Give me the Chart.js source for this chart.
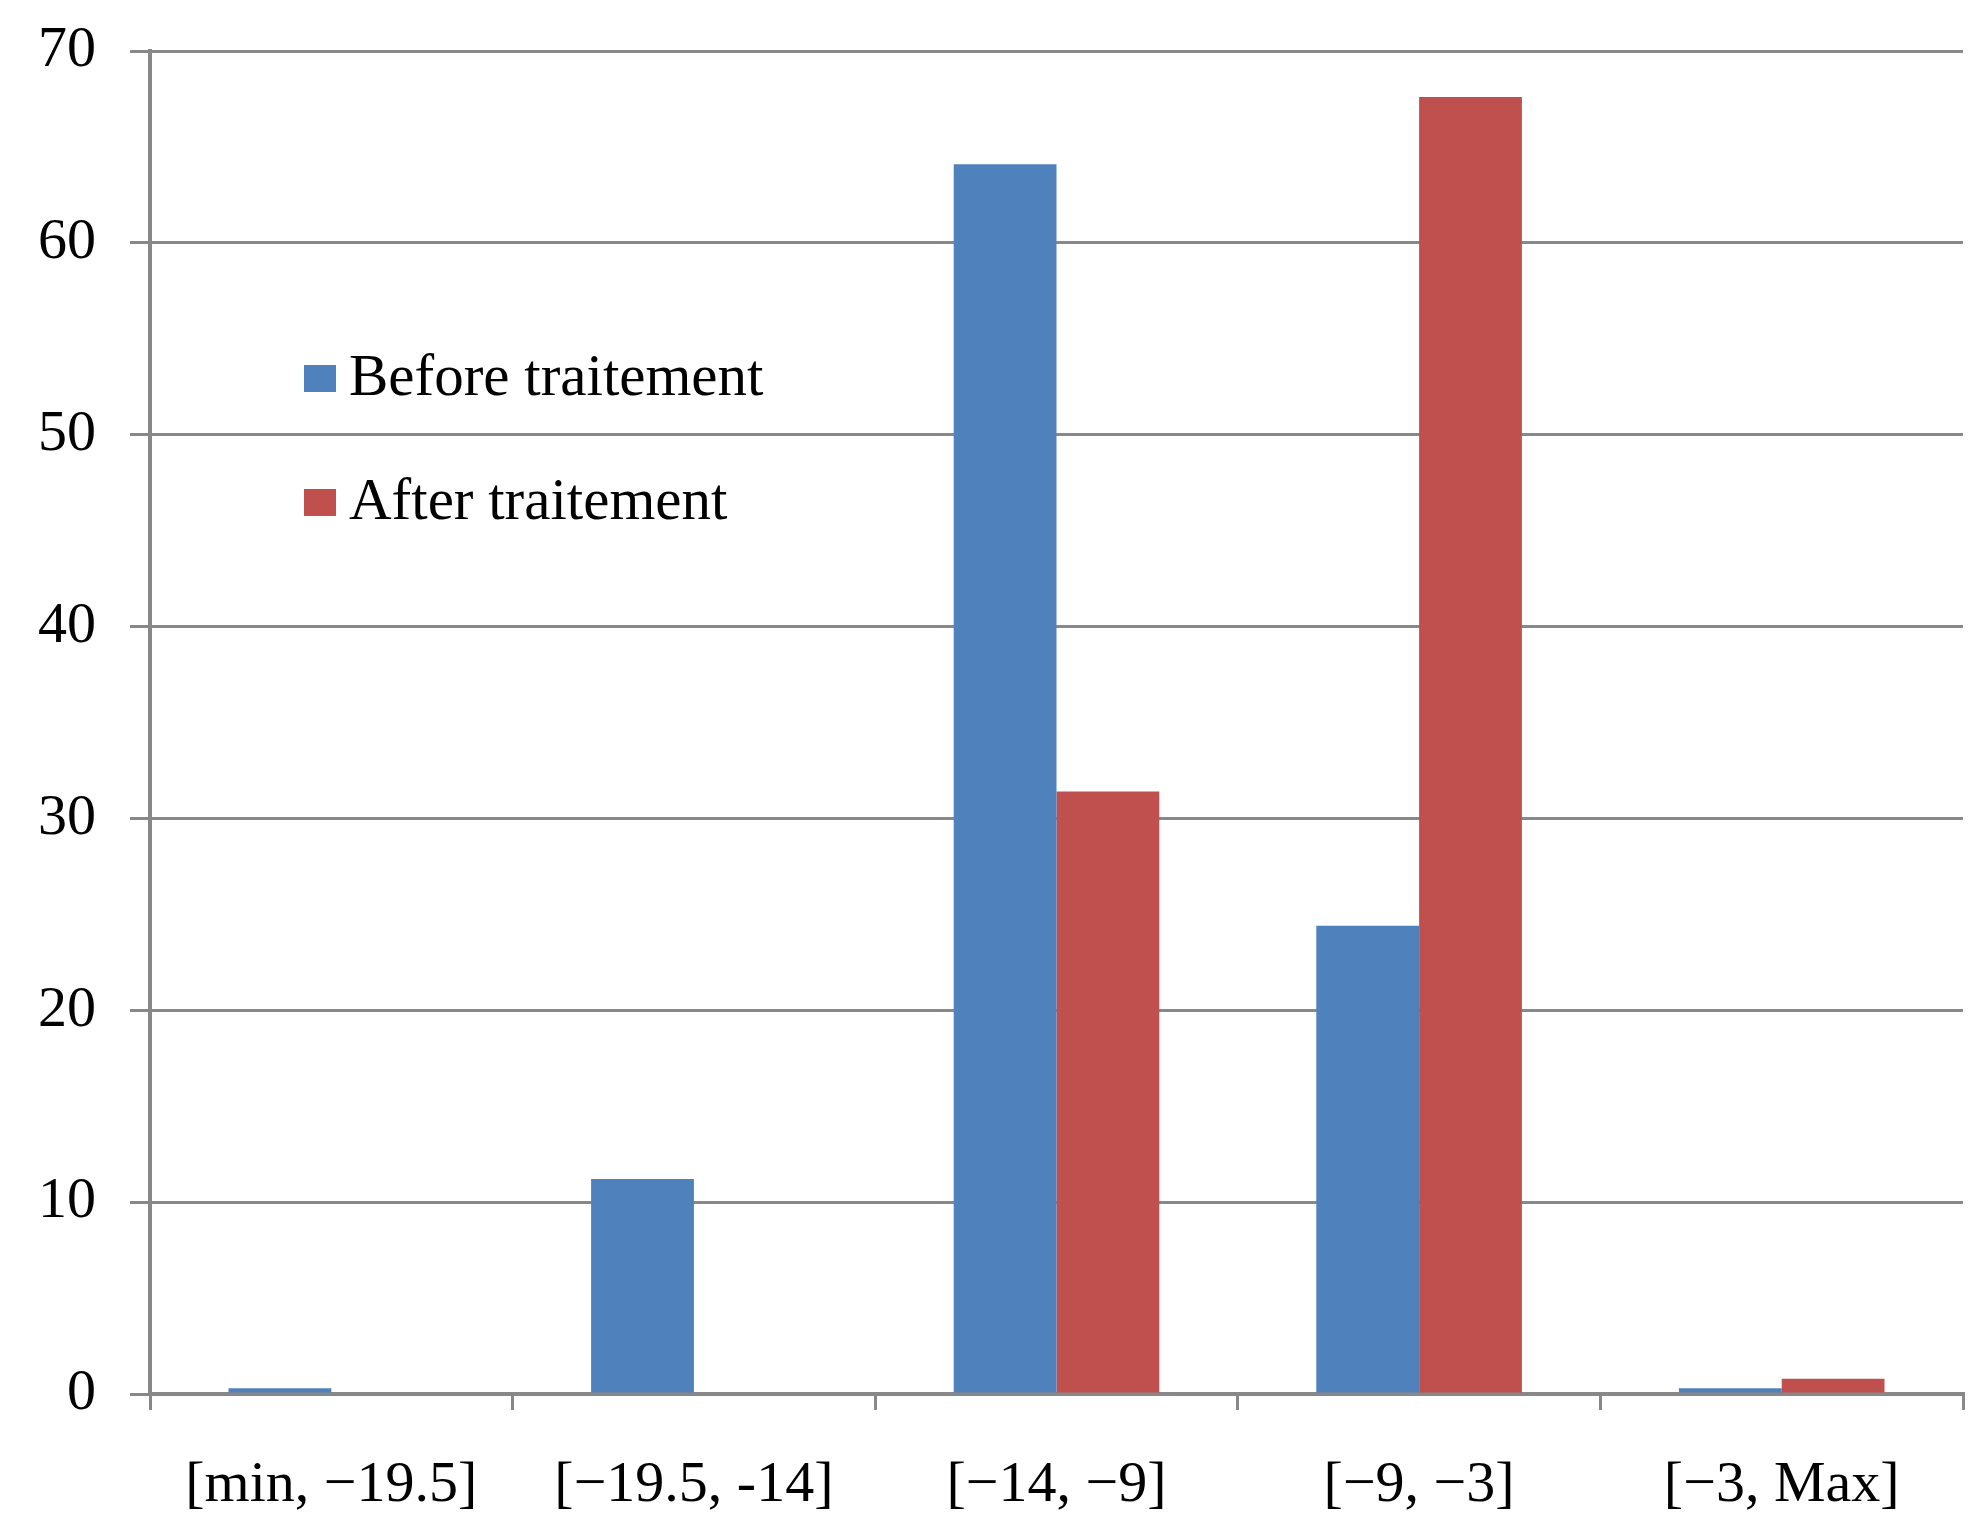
<!DOCTYPE html>
<html>
<head>
<meta charset="utf-8">
<script src="https://cdn.jsdelivr.net/npm/chart.js@4.4.1/dist/chart.umd.min.js"></script>
<style>
  html, body { margin: 0; padding: 0; background: #ffffff; }
  canvas { display: block; }
</style>
</head>
<body>
<canvas id="chart" width="1987" height="1538"></canvas>
<script>
const categories = ["[min, \u221219.5]", "[\u221219.5, -14]", "[\u221214, \u22129]", "[\u22129, \u22123]", "[\u22123, Max]"];
const beforeValues = [0.3, 11.2, 64.1, 24.4, 0.3];
const afterValues = [0, 0, 31.4, 67.6, 0.8];
const seriesNames = ["Before traitement", "After traitement"];
const yTicks = [0, 10, 20, 30, 40, 50, 60, 70];

const colors = ["#4f81bd", "#c0504d"];
const axisGray = "#888888";
const font = "'Liberation Serif', 'Times New Roman', serif";

// legend drawn inside the plot, like the original
const insideLegend = {
    id: "insideLegend",
    afterDraw(chart, args, opts) {
        const ctx = chart.ctx;
        ctx.save();
        ctx.font = opts.size + "px " + font;
        ctx.textBaseline = "alphabetic";
        ctx.textAlign = "left";
        chart.data.datasets.forEach((ds, i) => {
            const y = opts.y + i * opts.gap;
            ctx.fillStyle = ds.backgroundColor;
            ctx.fillRect(opts.x, y, 32, 27);
            ctx.fillStyle = "#000000";
            ctx.fillText(ds.label, opts.x + 45, y + 30);
        });
        ctx.restore();
    },
};

const config = {
    type: "bar",
    data: {
        labels: categories,
        datasets: [
            { label: seriesNames[0], data: beforeValues, backgroundColor: colors[0] },
            { label: seriesNames[1], data: afterValues, backgroundColor: colors[1] },
        ],
    },
    options: {
        responsive: false,
        animation: false,
        layout: { padding: { top: 51, right: 24, left: 0, bottom: 0 } },
        datasets: {
            bar: { barPercentage: 1, categoryPercentage: 0.567, borderWidth: 0 },
        },
        plugins: {
            legend: { display: false },
            tooltip: { enabled: false },
            insideLegend: { x: 304, y: 365, gap: 124, size: 59 },
        },
        scales: {
            x: {
                offset: true,
                grid: {
                    offset: true,
                    drawOnChartArea: false,
                    drawTicks: true,
                    tickLength: 16,
                    color: axisGray,
                    lineWidth: 3,
                },
                border: { color: axisGray, width: 4 },
                ticks: {
                    color: "#000000",
                    font: { family: font, size: 58 },
                    padding: 41,
                    maxRotation: 0,
                    autoSkip: false,
                },
                afterFit(scale) { scale.height = 144; },
            },
            y: {
                min: 0,
                max: 70,
                afterBuildTicks(scale) { scale.ticks = yTicks.map(v => ({ value: v })); },
                grid: {
                    color: axisGray,
                    lineWidth: 3,
                    tickLength: 20,
                },
                border: { color: axisGray, width: 4 },
                ticks: {
                    color: "#000000",
                    font: { family: font, size: 58 },
                    padding: 34,
                },
                afterFit(scale) {
                    scale.width = 150;
                    scale.paddingTop = 0;
                    scale.paddingBottom = 0;
                },
            },
        },
    },
    plugins: [insideLegend],
};

new Chart(document.getElementById("chart"), config);
</script>
</body>
</html>
